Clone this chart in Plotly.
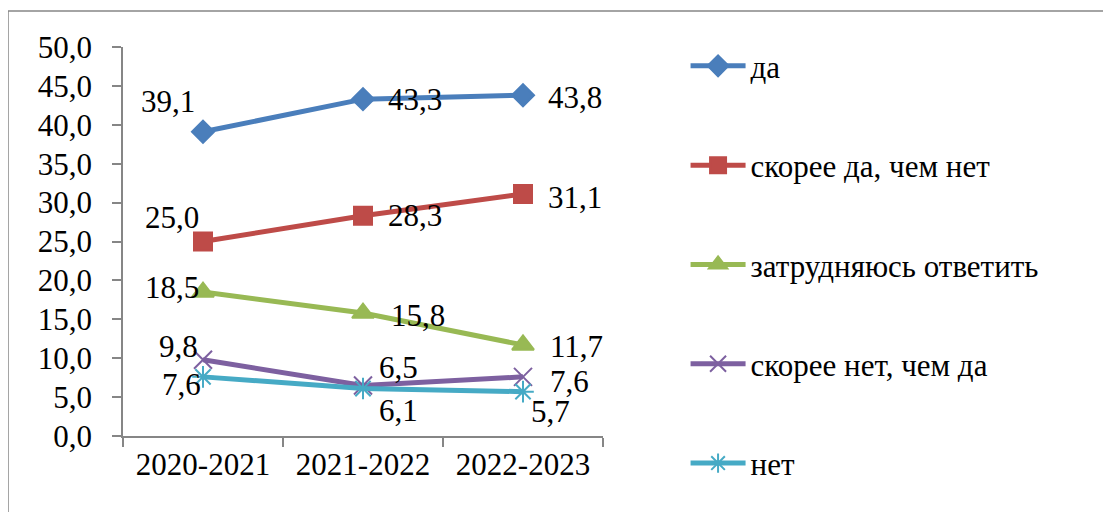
import plotly.graph_objects as go

categories = ["2020-2021", "2021-2022", "2022-2023"]
series_names = ["да", "скорее да, чем нет", "затрудняюсь ответить", "скорее нет, чем да", "нет"]
val_da = [39.1, 43.3, 43.8]
val_skoree_da = [25.0, 28.3, 31.1]
val_zatrud = [18.5, 15.8, 11.7]
val_skoree_net = [9.8, 6.5, 7.6]
val_net = [7.6, 6.1, 5.7]
y_ticks = [0, 5, 10, 15, 20, 25, 30, 35, 40, 45, 50]

series_values = [val_da, val_skoree_da, val_zatrud, val_skoree_net, val_net]
colors = ["#4A7EBB", "#BE4B48", "#98B954", "#7D60A0", "#46AAC5"]
symbols = ["diamond", "square", "triangle-up", "x-thin-open", "asterisk-open"]
msizes = [17, 18, 19, 18, 18]

# label offsets (px) for each series / point
offsets = [
    [(-35, 30), (52, 0), (52, -2)],
    [(-31, 24), (52, 0), (52, -3)],
    [(-31, 5), (55, -2), (53, -2)],
    [(-25, 13), (35, 18), (46, -5)],
    [(-22, -8), (35, -22), (27, -20)],
]

FONT = "'Liberation Serif', 'Times New Roman', 'DejaVu Serif', serif"
FS = 31
fig = go.Figure()
for i, (name, vals) in enumerate(zip(series_names, series_values)):
    fig.add_trace(go.Scatter(
        x=categories, y=vals, name=name, mode="lines+markers",
        legendgroup=f"g{i}",
        line=dict(color=colors[i], width=5),
        marker=dict(symbol=symbols[i], size=msizes[i], color=colors[i],
                    line=dict(color=colors[i], width=2)),
    ))
    for j, (c, v) in enumerate(zip(categories, vals)):
        dx, dy = offsets[i][j]
        fig.add_annotation(x=c, y=v, text=f"{v:.1f}".replace(".", ","),
                           showarrow=False, xshift=dx, yshift=dy,
                           font=dict(family=FONT, size=FS, color="black"))

fig.add_shape(type="rect", xref="paper", yref="paper",
              x0=-0.2396, x1=2.044, y0=-0.25, y1=1.0925,
              line=dict(color="#868686", width=1.5), layer="below")

fig.update_layout(
    width=1111, height=512,
    margin=dict(l=115, r=516, t=39, b=84),
    plot_bgcolor="white", paper_bgcolor="white",
    separators=", ",
    font=dict(family=FONT, size=FS, color="black"),
    showlegend=True,
    legend=dict(x=1.172, y=1.02, xanchor="left", yanchor="top",
                traceorder="grouped", tracegroupgap=56, itemwidth=55,
                maxheight=510,
                font=dict(family=FONT, size=FS, color="black"),
                bgcolor="rgba(0,0,0,0)"),
    xaxis=dict(showgrid=False, showline=True, linecolor="#868686", linewidth=1.5,
               ticks="outside", ticklen=9, tickcolor="#868686", tickwidth=1.5,
               tickson="boundaries", range=[-0.5, 2.5], fixedrange=True),
    yaxis=dict(showgrid=False, showline=True, linecolor="#868686", linewidth=1.5,
               ticks="outside", ticklen=9, tickcolor="#868686", tickwidth=1.5,
               range=[0, 50], tickvals=y_ticks, tickformat=".1f", zeroline=False,
               ticklabelstandoff=14),
)

fig.write_html("out.html")
